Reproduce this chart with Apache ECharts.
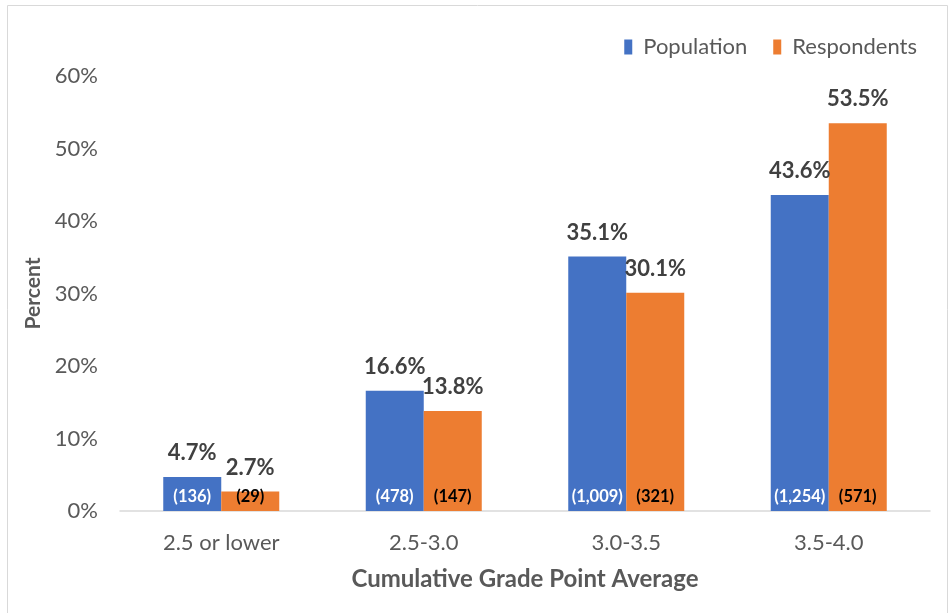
<!DOCTYPE html>
<html><head><meta charset="utf-8">
<script src="https://cdn.jsdelivr.net/npm/echarts@6/dist/echarts.min.js"></script>
<style>html,body{margin:0;padding:0;background:#fff}#c{width:952px;height:613px}</style>
</head><body><div id="c"></div>
<script>
const categories = ['2.5 or lower', '2.5-3.0', '3.0-3.5', '3.5-4.0'];
const populationPct = [4.7, 16.6, 35.1, 43.6];
const respondentsPct = [2.7, 13.8, 30.1, 53.5];
const populationCount = [136, 478, 1009, 1254];
const respondentsCount = [29, 147, 321, 571];
const yTicks = [0, 10, 20, 30, 40, 50, 60];

const FONT = 'Lato, "Open Sans", sans-serif';
const chart = echarts.init(document.getElementById('c'));
const fmtCount = v => '(' + v.toLocaleString('en-US') + ')';
const xBase = {
  type: 'category', data: categories,
  axisTick: { show: false },
  axisLine: { lineStyle: { color: '#d9d9d9', width: 1.5 } }
};
chart.setOption({
  animation: false,
  textStyle: { fontFamily: FONT },
  graphic: [{ type: 'rect', shape: { x: 7.5, y: 5.5, width: 940, height: 620 }, style: { fill: 'none', stroke: '#d9d9d9', lineWidth: 1 } }],
  legend: {
    data: ['Population', 'Respondents'],
    top: 31, right: 30, itemWidth: 8, itemHeight: 15, itemGap: 26,
    icon: 'rect',
    textStyle: { fontSize: 22, color: '#595959', fontFamily: FONT, padding: [0, 0, 0, 6] }
  },
  grid: { left: 120, right: 22, top: 76, bottom: 102 },
  xAxis: [
    Object.assign({}, xBase, {
      name: 'Cumulative Grade Point Average', nameLocation: 'middle', nameGap: 56,
      nameTextStyle: { fontSize: 24, fontWeight: 'bold', color: '#595959', fontFamily: FONT },
      axisLabel: { fontSize: 22, color: '#595959', margin: 21, fontFamily: FONT }
    }),
    Object.assign({}, xBase, { show: false })
  ],
  yAxis: {
    type: 'value', min: 0, max: 60, interval: 10,
    name: 'Percent', nameLocation: 'middle', nameGap: 73, nameRotate: 90,
    nameTextStyle: { fontSize: 21, fontWeight: 'bold', color: '#595959', fontFamily: FONT },
    axisLabel: { formatter: v => v + '%', fontSize: 22, color: '#595959', margin: 22, fontFamily: FONT },
    splitLine: { show: false }, axisLine: { show: false }, axisTick: { show: false }
  },
  series: [
    { name: 'Population', type: 'bar', data: populationPct, barWidth: 58, barGap: '0%',
      itemStyle: { color: '#4472C4' },
      label: { show: true, position: 'top', distance: 13, formatter: p => p.value.toFixed(1) + '%', fontSize: 22, fontWeight: 'bold', color: '#404040', fontFamily: FONT } },
    { name: 'Respondents', type: 'bar', data: respondentsPct, barWidth: 58, barGap: '0%',
      itemStyle: { color: '#ED7D31' },
      label: { show: true, position: 'top', distance: 13, formatter: p => p.value.toFixed(1) + '%', fontSize: 22, fontWeight: 'bold', color: '#404040', fontFamily: FONT } },
    { name: 'popCount', type: 'bar', xAxisIndex: 1, data: populationPct, barWidth: 58, barGap: '0%',
      itemStyle: { color: 'transparent' }, silent: true,
      label: { show: true, position: 'insideBottom', distance: 6, formatter: p => fmtCount(populationCount[p.dataIndex]), fontSize: 16.5, fontWeight: 'bold', color: '#ffffff', fontFamily: FONT } },
    { name: 'respCount', type: 'bar', xAxisIndex: 1, data: respondentsPct, barWidth: 58, barGap: '0%',
      itemStyle: { color: 'transparent' }, silent: true,
      label: { show: true, position: 'insideBottom', distance: 6, formatter: p => fmtCount(respondentsCount[p.dataIndex]), fontSize: 16.5, fontWeight: 'bold', color: '#000000', fontFamily: FONT } }
  ]
});
</script></body></html>
